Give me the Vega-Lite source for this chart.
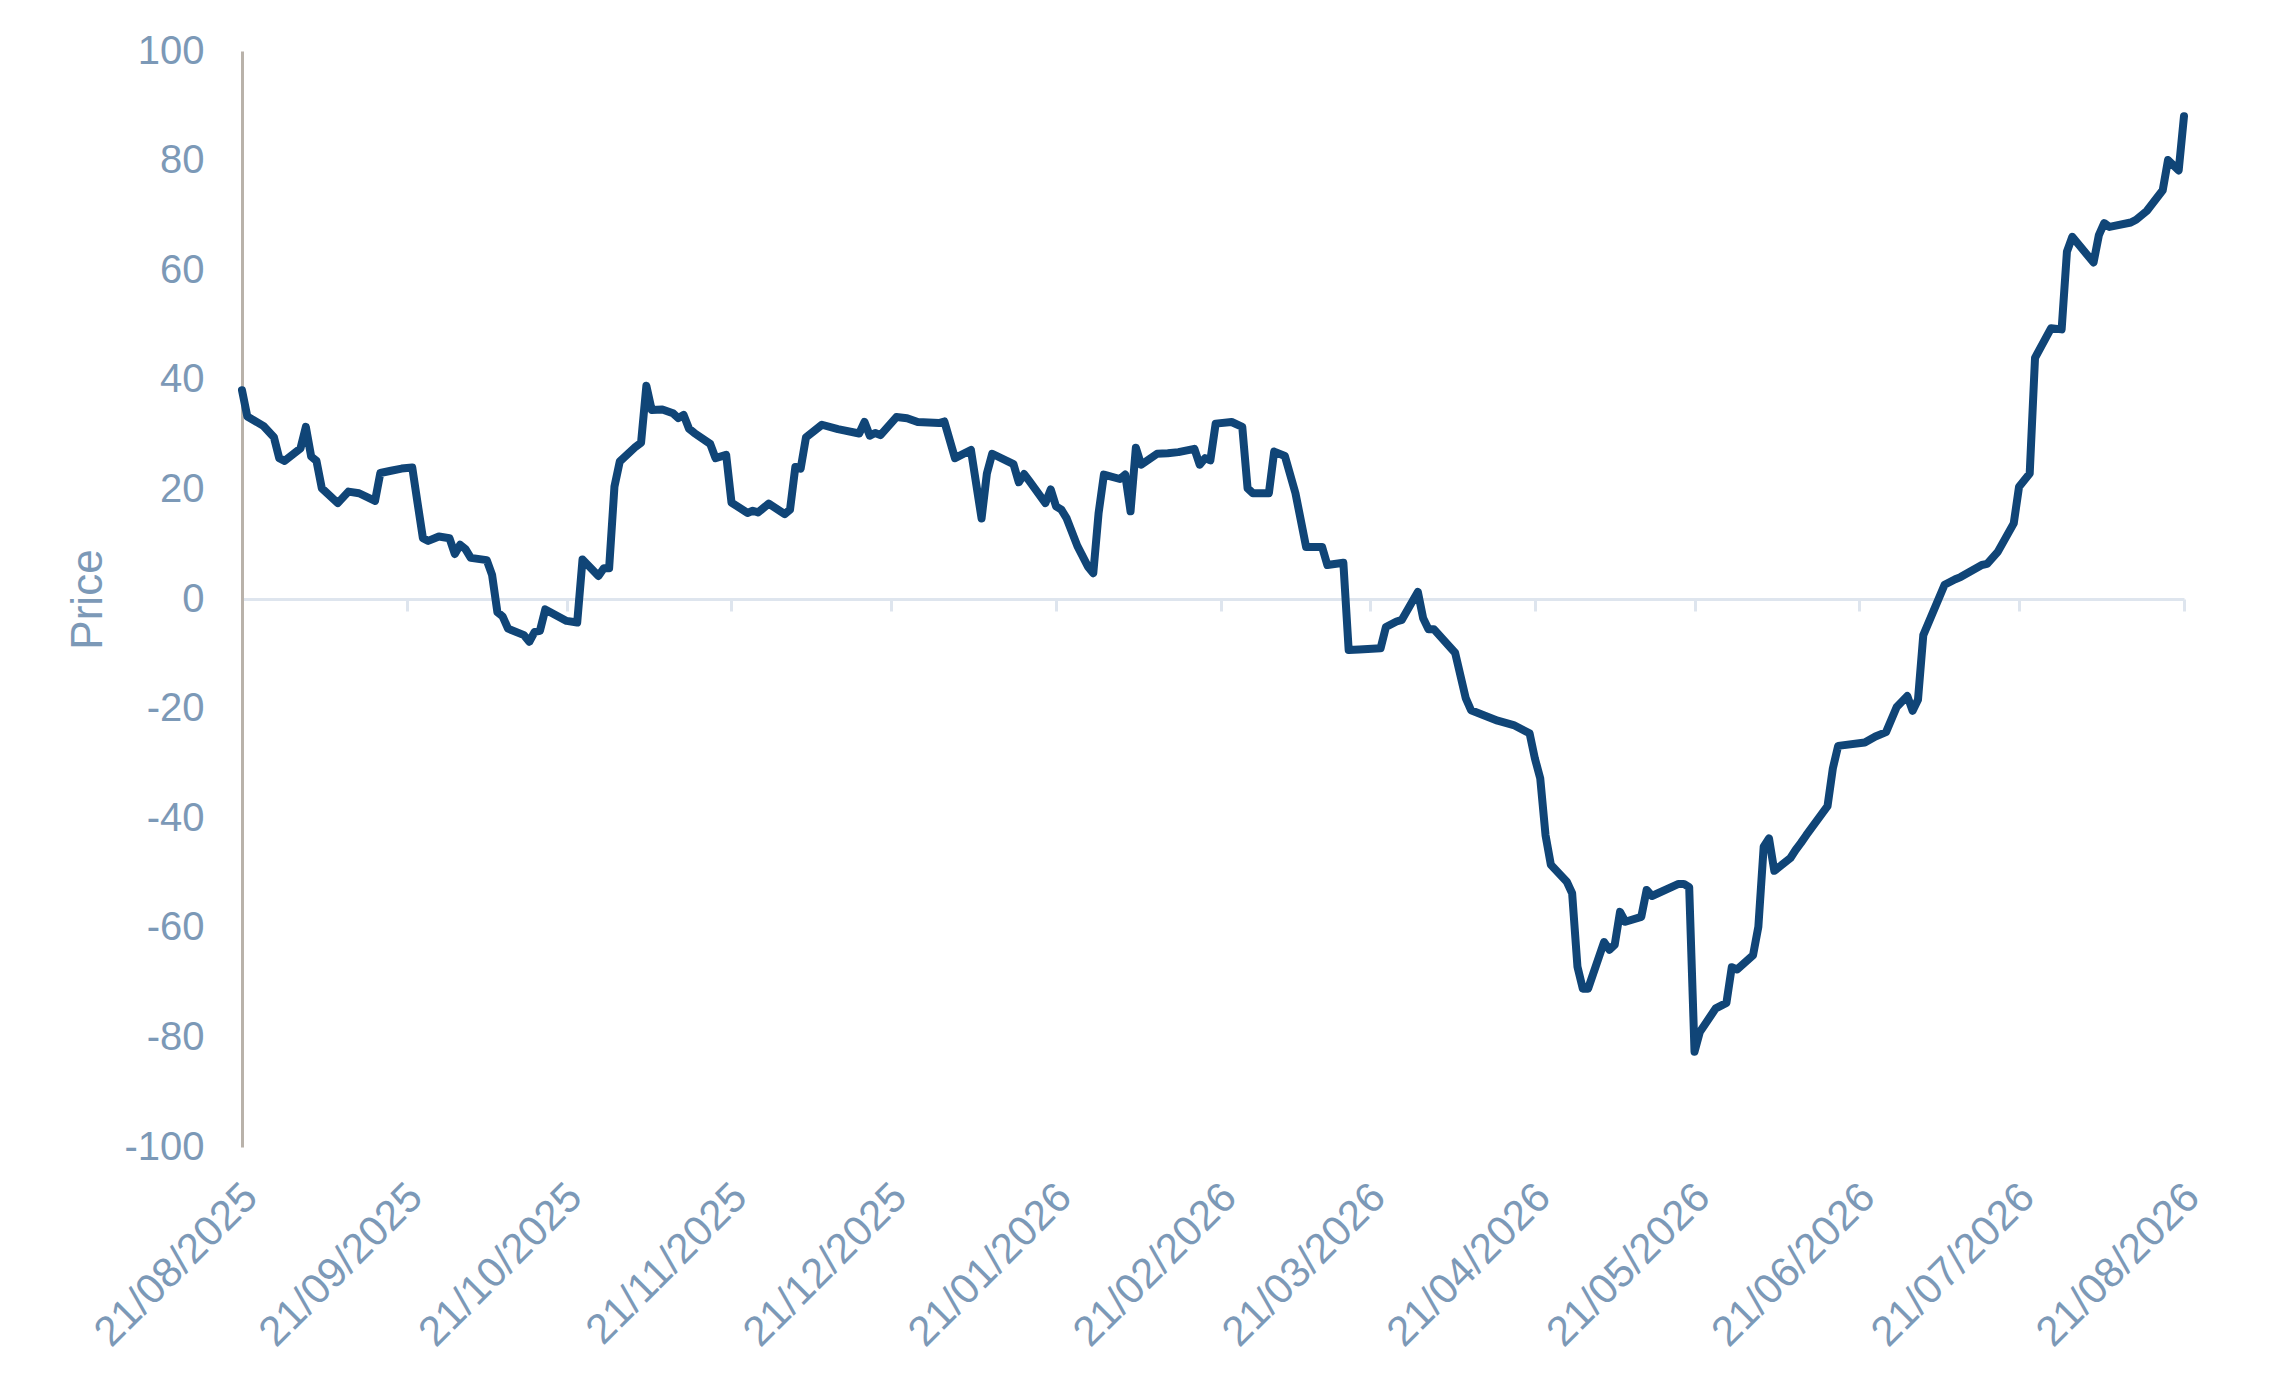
{
  "$schema": "https://vega.github.io/schema/vega-lite/v6.json",
  "width": 1942,
  "height": 1096,
  "autosize": {"type": "none"},
  "padding": {"left": 242, "top": 51, "right": 86, "bottom": 234},
  "background": "white",
  "config": {
    "view": {"stroke": null},
    "axis": {"grid": false, "labelFont": "Liberation Sans", "titleFont": "Liberation Sans"}
  },
  "data": {
    "values": [
      {"date": "2025-08-21", "price": 38.1},
      {"date": "2025-08-22", "price": 33.3},
      {"date": "2025-08-25", "price": 31.6},
      {"date": "2025-08-27", "price": 29.5},
      {"date": "2025-08-28", "price": 25.7},
      {"date": "2025-08-29", "price": 25.2},
      {"date": "2025-09-01", "price": 27.5},
      {"date": "2025-09-02", "price": 31.4},
      {"date": "2025-09-03", "price": 26.0},
      {"date": "2025-09-04", "price": 25.2},
      {"date": "2025-09-05", "price": 20.2},
      {"date": "2025-09-08", "price": 17.5},
      {"date": "2025-09-10", "price": 19.6},
      {"date": "2025-09-12", "price": 19.3},
      {"date": "2025-09-15", "price": 17.9},
      {"date": "2025-09-16", "price": 23.0},
      {"date": "2025-09-18", "price": 23.4},
      {"date": "2025-09-20", "price": 23.8},
      {"date": "2025-09-22", "price": 24.0},
      {"date": "2025-09-23", "price": 17.5},
      {"date": "2025-09-24", "price": 11.1},
      {"date": "2025-09-25", "price": 10.6},
      {"date": "2025-09-27", "price": 11.4},
      {"date": "2025-09-29", "price": 11.1},
      {"date": "2025-09-30", "price": 8.2},
      {"date": "2025-10-01", "price": 9.9},
      {"date": "2025-10-02", "price": 9.1},
      {"date": "2025-10-03", "price": 7.5},
      {"date": "2025-10-06", "price": 7.1},
      {"date": "2025-10-07", "price": 4.4},
      {"date": "2025-10-08", "price": -2.4},
      {"date": "2025-10-09", "price": -3.2},
      {"date": "2025-10-10", "price": -5.4},
      {"date": "2025-10-13", "price": -6.6},
      {"date": "2025-10-14", "price": -7.8},
      {"date": "2025-10-15", "price": -6.0},
      {"date": "2025-10-16", "price": -5.8},
      {"date": "2025-10-17", "price": -1.9},
      {"date": "2025-10-21", "price": -4.0},
      {"date": "2025-10-23", "price": -4.3},
      {"date": "2025-10-24", "price": 7.2},
      {"date": "2025-10-27", "price": 4.2},
      {"date": "2025-10-28", "price": 5.6},
      {"date": "2025-10-29", "price": 5.6},
      {"date": "2025-10-30", "price": 20.5},
      {"date": "2025-10-31", "price": 25.1},
      {"date": "2025-11-03", "price": 27.8},
      {"date": "2025-11-04", "price": 28.5},
      {"date": "2025-11-05", "price": 38.9},
      {"date": "2025-11-06", "price": 34.5},
      {"date": "2025-11-08", "price": 34.6},
      {"date": "2025-11-10", "price": 33.9},
      {"date": "2025-11-11", "price": 33.0},
      {"date": "2025-11-12", "price": 33.6},
      {"date": "2025-11-13", "price": 31.1},
      {"date": "2025-11-14", "price": 30.3},
      {"date": "2025-11-17", "price": 28.3},
      {"date": "2025-11-18", "price": 25.7},
      {"date": "2025-11-20", "price": 26.3},
      {"date": "2025-11-21", "price": 17.6},
      {"date": "2025-11-24", "price": 15.7},
      {"date": "2025-11-25", "price": 16.1},
      {"date": "2025-11-26", "price": 15.8},
      {"date": "2025-11-28", "price": 17.4},
      {"date": "2025-12-01", "price": 15.5},
      {"date": "2025-12-02", "price": 16.3},
      {"date": "2025-12-03", "price": 24.1},
      {"date": "2025-12-04", "price": 23.8},
      {"date": "2025-12-05", "price": 29.5},
      {"date": "2025-12-08", "price": 31.8},
      {"date": "2025-12-11", "price": 31.0},
      {"date": "2025-12-15", "price": 30.2},
      {"date": "2025-12-16", "price": 32.3},
      {"date": "2025-12-17", "price": 29.8},
      {"date": "2025-12-18", "price": 30.3},
      {"date": "2025-12-19", "price": 29.9},
      {"date": "2025-12-22", "price": 33.2},
      {"date": "2025-12-24", "price": 33.0},
      {"date": "2025-12-26", "price": 32.3},
      {"date": "2025-12-30", "price": 32.1},
      {"date": "2025-12-31", "price": 32.4},
      {"date": "2026-01-02", "price": 25.7},
      {"date": "2026-01-05", "price": 27.2},
      {"date": "2026-01-07", "price": 14.7},
      {"date": "2026-01-08", "price": 22.9},
      {"date": "2026-01-09", "price": 26.5},
      {"date": "2026-01-13", "price": 24.6},
      {"date": "2026-01-14", "price": 21.3},
      {"date": "2026-01-15", "price": 22.8},
      {"date": "2026-01-16", "price": 21.5},
      {"date": "2026-01-19", "price": 17.5},
      {"date": "2026-01-20", "price": 20.0},
      {"date": "2026-01-21", "price": 16.9},
      {"date": "2026-01-22", "price": 16.3},
      {"date": "2026-01-23", "price": 14.7},
      {"date": "2026-01-25", "price": 9.7},
      {"date": "2026-01-27", "price": 5.9},
      {"date": "2026-01-28", "price": 4.7},
      {"date": "2026-01-29", "price": 15.7},
      {"date": "2026-01-30", "price": 22.7},
      {"date": "2026-02-02", "price": 21.9},
      {"date": "2026-02-03", "price": 22.7},
      {"date": "2026-02-04", "price": 16.0},
      {"date": "2026-02-05", "price": 27.6},
      {"date": "2026-02-06", "price": 24.5},
      {"date": "2026-02-09", "price": 26.5},
      {"date": "2026-02-11", "price": 26.6},
      {"date": "2026-02-13", "price": 26.8},
      {"date": "2026-02-16", "price": 27.4},
      {"date": "2026-02-17", "price": 24.5},
      {"date": "2026-02-18", "price": 25.7},
      {"date": "2026-02-19", "price": 25.3},
      {"date": "2026-02-20", "price": 32.0},
      {"date": "2026-02-23", "price": 32.3},
      {"date": "2026-02-25", "price": 31.4},
      {"date": "2026-02-26", "price": 20.2},
      {"date": "2026-02-27", "price": 19.3},
      {"date": "2026-03-02", "price": 19.3},
      {"date": "2026-03-03", "price": 26.9},
      {"date": "2026-03-05", "price": 26.1},
      {"date": "2026-03-07", "price": 19.3},
      {"date": "2026-03-09", "price": 9.5},
      {"date": "2026-03-12", "price": 9.5},
      {"date": "2026-03-13", "price": 6.2},
      {"date": "2026-03-16", "price": 6.6},
      {"date": "2026-03-17", "price": -9.3},
      {"date": "2026-03-19", "price": -9.2},
      {"date": "2026-03-23", "price": -9.0},
      {"date": "2026-03-24", "price": -5.1},
      {"date": "2026-03-26", "price": -4.1},
      {"date": "2026-03-27", "price": -3.8},
      {"date": "2026-03-30", "price": 1.3},
      {"date": "2026-03-31", "price": -3.5},
      {"date": "2026-04-01", "price": -5.5},
      {"date": "2026-04-02", "price": -5.5},
      {"date": "2026-04-06", "price": -9.8},
      {"date": "2026-04-08", "price": -18.1},
      {"date": "2026-04-09", "price": -20.3},
      {"date": "2026-04-14", "price": -22.2},
      {"date": "2026-04-17", "price": -23.0},
      {"date": "2026-04-20", "price": -24.5},
      {"date": "2026-04-21", "price": -29.1},
      {"date": "2026-04-22", "price": -32.7},
      {"date": "2026-04-23", "price": -43.1},
      {"date": "2026-04-24", "price": -48.5},
      {"date": "2026-04-27", "price": -51.6},
      {"date": "2026-04-28", "price": -53.7},
      {"date": "2026-04-29", "price": -67.1},
      {"date": "2026-04-30", "price": -71.1},
      {"date": "2026-05-01", "price": -71.1},
      {"date": "2026-05-04", "price": -62.6},
      {"date": "2026-05-05", "price": -64.0},
      {"date": "2026-05-06", "price": -63.1},
      {"date": "2026-05-07", "price": -57.1},
      {"date": "2026-05-08", "price": -58.9},
      {"date": "2026-05-11", "price": -58.0},
      {"date": "2026-05-12", "price": -53.1},
      {"date": "2026-05-13", "price": -54.2},
      {"date": "2026-05-18", "price": -52.0},
      {"date": "2026-05-19", "price": -52.0},
      {"date": "2026-05-20", "price": -52.6},
      {"date": "2026-05-21", "price": -82.6},
      {"date": "2026-05-22", "price": -79.0},
      {"date": "2026-05-25", "price": -74.7},
      {"date": "2026-05-27", "price": -73.7},
      {"date": "2026-05-28", "price": -67.2},
      {"date": "2026-05-29", "price": -67.6},
      {"date": "2026-06-01", "price": -65.0},
      {"date": "2026-06-02", "price": -59.8},
      {"date": "2026-06-03", "price": -45.2},
      {"date": "2026-06-04", "price": -43.7},
      {"date": "2026-06-05", "price": -49.6},
      {"date": "2026-06-08", "price": -47.3},
      {"date": "2026-06-09", "price": -45.8},
      {"date": "2026-06-10", "price": -44.5},
      {"date": "2026-06-11", "price": -43.1},
      {"date": "2026-06-15", "price": -37.8},
      {"date": "2026-06-16", "price": -30.9},
      {"date": "2026-06-17", "price": -26.8},
      {"date": "2026-06-22", "price": -26.2},
      {"date": "2026-06-24", "price": -25.1},
      {"date": "2026-06-26", "price": -24.3},
      {"date": "2026-06-28", "price": -19.7},
      {"date": "2026-06-30", "price": -17.7},
      {"date": "2026-07-01", "price": -20.4},
      {"date": "2026-07-02", "price": -18.4},
      {"date": "2026-07-03", "price": -6.6},
      {"date": "2026-07-07", "price": 2.6},
      {"date": "2026-07-09", "price": 3.6},
      {"date": "2026-07-10", "price": 4.0},
      {"date": "2026-07-14", "price": 6.2},
      {"date": "2026-07-15", "price": 6.4},
      {"date": "2026-07-17", "price": 8.6},
      {"date": "2026-07-20", "price": 13.8},
      {"date": "2026-07-21", "price": 20.5},
      {"date": "2026-07-23", "price": 22.9},
      {"date": "2026-07-24", "price": 44.0},
      {"date": "2026-07-27", "price": 49.4},
      {"date": "2026-07-29", "price": 49.2},
      {"date": "2026-07-30", "price": 63.4},
      {"date": "2026-07-31", "price": 66.1},
      {"date": "2026-08-04", "price": 61.4},
      {"date": "2026-08-05", "price": 66.4},
      {"date": "2026-08-06", "price": 68.6},
      {"date": "2026-08-07", "price": 67.9},
      {"date": "2026-08-11", "price": 68.7},
      {"date": "2026-08-12", "price": 69.2},
      {"date": "2026-08-14", "price": 70.8},
      {"date": "2026-08-17", "price": 74.6},
      {"date": "2026-08-18", "price": 80.1},
      {"date": "2026-08-20", "price": 78.2},
      {"date": "2026-08-21", "price": 88.1}
    ]
  },
  "layer": [
    {
      "mark": {"type": "line", "opacity": 0},
      "encoding": {
        "x": {
          "field": "date",
          "type": "temporal",
          "scale": {
            "type": "utc",
            "nice": false,
            "domain": [
              {"year": 2025, "month": 8, "date": 21, "utc": true},
              {"year": 2026, "month": 8, "date": 21, "utc": true}
            ]
          },
          "axis": {
            "orient": "bottom",
            "offset": -548,
            "title": null,
            "labels": false,
            "domain": true,
            "domainColor": "#DEE5EE",
            "domainWidth": 3,
            "ticks": true,
            "tickColor": "#DEE5EE",
            "tickWidth": 3,
            "tickSize": 12,
            "values": [
              {"year": 2025, "month": 8, "date": 21, "utc": true},
              {"year": 2025, "month": 9, "date": 21, "utc": true},
              {"year": 2025, "month": 10, "date": 21, "utc": true},
              {"year": 2025, "month": 11, "date": 21, "utc": true},
              {"year": 2025, "month": 12, "date": 21, "utc": true},
              {"year": 2026, "month": 1, "date": 21, "utc": true},
              {"year": 2026, "month": 2, "date": 21, "utc": true},
              {"year": 2026, "month": 3, "date": 21, "utc": true},
              {"year": 2026, "month": 4, "date": 21, "utc": true},
              {"year": 2026, "month": 5, "date": 21, "utc": true},
              {"year": 2026, "month": 6, "date": 21, "utc": true},
              {"year": 2026, "month": 7, "date": 21, "utc": true},
              {"year": 2026, "month": 8, "date": 21, "utc": true}
            ]
          }
        },
        "y": {
          "field": "price",
          "type": "quantitative",
          "scale": {"domain": [-100, 100], "nice": false, "zero": false},
          "axis": {
            "orient": "left",
            "values": [-100, -80, -60, -40, -20, 0, 20, 40, 60, 80, 100],
            "labelExpr": "'' + datum.value",
            "domainColor": "#B9B2AA",
            "domainWidth": 3,
            "ticks": false,
            "tickSize": 0,
            "labelFontSize": 40,
            "labelColor": "#7C99B7",
            "labelPadding": 38,
            "title": "Price",
            "titleFontSize": 44,
            "titleFontWeight": "normal",
            "titleColor": "#7C99B7",
            "titlePadding": 13
          }
        }
      }
    },
    {
      "mark": {
        "type": "line",
        "color": "#104577",
        "strokeWidth": 8,
        "strokeJoin": "round",
        "strokeCap": "round"
      },
      "encoding": {
        "x": {
          "field": "date",
          "type": "temporal",
          "scale": {
            "type": "utc",
            "nice": false,
            "domain": [
              {"year": 2025, "month": 8, "date": 21, "utc": true},
              {"year": 2026, "month": 8, "date": 21, "utc": true}
            ]
          },
          "axis": {
            "orient": "bottom",
            "title": null,
            "domain": false,
            "ticks": false,
            "format": "%d/%m/%Y",
            "labelAngle": -45,
            "labelAlign": "right",
            "labelBaseline": "top",
            "labelOffset": -6,
            "labelPadding": 29,
            "labelFontSize": 42,
            "labelLimit": 0,
            "labelColor": "#7C99B7",
            "labelOverlap": false,
            "values": [
              {"year": 2025, "month": 8, "date": 21, "utc": true},
              {"year": 2025, "month": 9, "date": 21, "utc": true},
              {"year": 2025, "month": 10, "date": 21, "utc": true},
              {"year": 2025, "month": 11, "date": 21, "utc": true},
              {"year": 2025, "month": 12, "date": 21, "utc": true},
              {"year": 2026, "month": 1, "date": 21, "utc": true},
              {"year": 2026, "month": 2, "date": 21, "utc": true},
              {"year": 2026, "month": 3, "date": 21, "utc": true},
              {"year": 2026, "month": 4, "date": 21, "utc": true},
              {"year": 2026, "month": 5, "date": 21, "utc": true},
              {"year": 2026, "month": 6, "date": 21, "utc": true},
              {"year": 2026, "month": 7, "date": 21, "utc": true},
              {"year": 2026, "month": 8, "date": 21, "utc": true}
            ]
          }
        },
        "y": {
          "field": "price",
          "type": "quantitative",
          "scale": {"domain": [-100, 100], "nice": false, "zero": false},
          "axis": {
            "orient": "left",
            "values": [-100, -80, -60, -40, -20, 0, 20, 40, 60, 80, 100],
            "labelExpr": "'' + datum.value",
            "domainColor": "#B9B2AA",
            "domainWidth": 3,
            "ticks": false,
            "tickSize": 0,
            "labelFontSize": 40,
            "labelColor": "#7C99B7",
            "labelPadding": 38,
            "title": "Price",
            "titleFontSize": 44,
            "titleFontWeight": "normal",
            "titleColor": "#7C99B7",
            "titlePadding": 13
          }
        }
      }
    }
  ],
  "resolve": {"axis": {"x": "independent"}}
}
